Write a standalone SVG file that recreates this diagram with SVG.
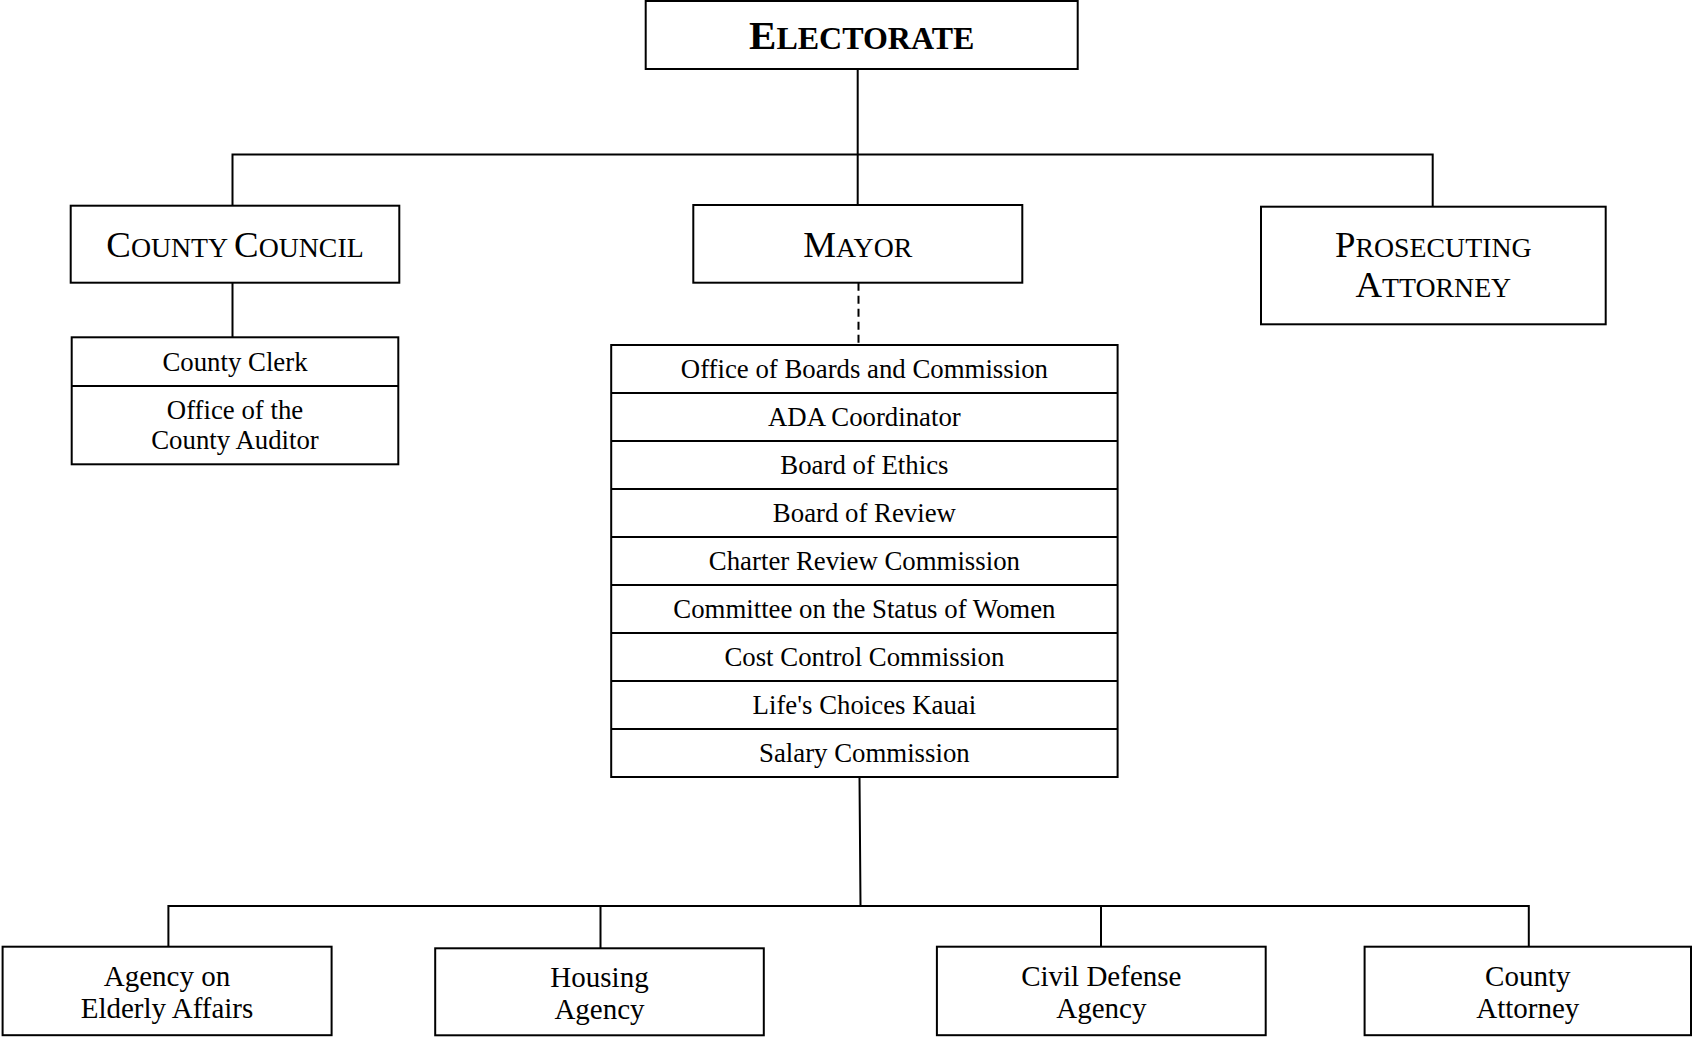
<svg xmlns="http://www.w3.org/2000/svg" width="1692" height="1037" viewBox="0 0 1692 1037">
<style>
.box{fill:#fff;stroke:#000;stroke-width:2}
.ln{fill:none;stroke:#000;stroke-width:2}
.dash{fill:none;stroke:#000;stroke-width:2;stroke-dasharray:8,5}
text{font-family:"Liberation Serif","Times New Roman",serif;fill:#000;text-anchor:middle}
.sc{font-size:36.8px}
.sc tspan.s{font-size:27.8px}
.t{font-size:26.8px}
.b{font-size:29px}
</style>
<rect width="1692" height="1037" fill="#fff"/>
<g id="connectors">
<path class="ln" d="M857.7,69 V205 M232.5,282.7 V154.5 H1432.7 V206.7 M232.5,282.7 V337.3"/>
<path class="dash" d="M858.5,282.7 V345"/>
<path class="ln" d="M859.5,777 L860.5,906 M168.4,946.7 V906 H1528.8 V946.7 M600.5,906 V948.3 M1101,906 V946.7"/>
</g>
<g id="electorate">
<rect class="box" x="645.7" y="1" width="432" height="68"/>
<text x="861.7" y="49" font-weight="bold" font-size="41">E<tspan font-size="32">LECTORATE</tspan></text>
</g>
<g id="county-council">
<rect class="box" x="70.7" y="205.7" width="328.6" height="77"/>
<text class="sc" x="235" y="256.7">C<tspan class="s">OUNTY </tspan>C<tspan class="s">OUNCIL</tspan></text>
</g>
<g id="mayor">
<rect class="box" x="693.3" y="205" width="329" height="77.7"/>
<text class="sc" x="857.8" y="256.7">M<tspan class="s">AYOR</tspan></text>
</g>
<g id="prosecuting-attorney">
<rect class="box" x="1261" y="206.7" width="344.7" height="117.6"/>
<text class="sc" x="1433.3" y="256.7">P<tspan class="s">ROSECUTING</tspan></text>
<text class="sc" x="1433.3" y="296.7">A<tspan class="s">TTORNEY</tspan></text>
</g>
<g id="council-offices">
<rect class="box" x="71.7" y="337.3" width="326.6" height="127"/>
<path class="ln" d="M71.7,386 H398.3"/>
<text class="t" x="235" y="370.5">County Clerk</text>
<text class="t" x="235" y="418.5">Office of the</text>
<text class="t" x="235" y="448.5">County Auditor</text>
</g>
<g id="mayor-offices">
<rect class="box" x="611.2" y="345" width="506.4" height="432"/>
<path class="ln" d="M611.2,393 H1117.6 M611.2,441 H1117.6 M611.2,489 H1117.6 M611.2,537 H1117.6 M611.2,585 H1117.6 M611.2,633 H1117.6 M611.2,681 H1117.6 M611.2,729 H1117.6"/>
<text class="t" x="864.4" y="378">Office of Boards and Commission</text>
<text class="t" x="864.4" y="426">ADA Coordinator</text>
<text class="t" x="864.4" y="474">Board of Ethics</text>
<text class="t" x="864.4" y="522">Board of Review</text>
<text class="t" x="864.4" y="570">Charter Review Commission</text>
<text class="t" x="864.4" y="618">Committee on the Status of Women</text>
<text class="t" x="864.4" y="666">Cost Control Commission</text>
<text class="t" x="864.4" y="714">Life's Choices Kauai</text>
<text class="t" x="864.4" y="762">Salary Commission</text>
</g>
<g id="elderly-affairs">
<rect class="box" x="2.6" y="946.7" width="329" height="88.5"/>
<text class="b" x="167" y="985.5">Agency on</text>
<text class="b" x="167" y="1018.3">Elderly Affairs</text>
</g>
<g id="housing">
<rect class="box" x="435.2" y="948.3" width="328.6" height="87"/>
<text class="b" x="599.5" y="986.5">Housing</text>
<text class="b" x="599.5" y="1019">Agency</text>
</g>
<g id="civil-defense">
<rect class="box" x="936.9" y="946.7" width="328.8" height="88.5"/>
<text class="b" x="1101.3" y="985.5">Civil Defense</text>
<text class="b" x="1101.3" y="1018.3">Agency</text>
</g>
<g id="county-attorney">
<rect class="box" x="1364.6" y="946.7" width="326.4" height="88.5"/>
<text class="b" x="1527.8" y="985.5">County</text>
<text class="b" x="1527.8" y="1018.3">Attorney</text>
</g>
</svg>
